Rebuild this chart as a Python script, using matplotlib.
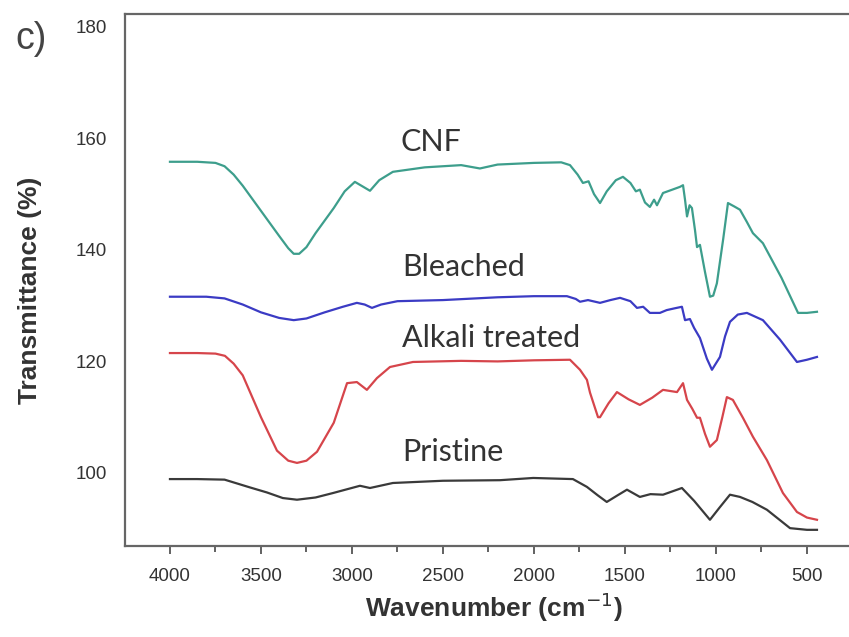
import matplotlib
matplotlib.use("Agg")
import matplotlib.pyplot as plt
from matplotlib.ticker import MultipleLocator

# ---- data ----
cnf_w = [4000, 3850, 3750, 3700, 3650, 3600, 3500, 3400, 3350, 3320, 3290, 3250, 3200, 3100, 3040, 2984,
         2901, 2850, 2775, 2600, 2400, 2297, 2200, 2000, 1850, 1802, 1760, 1731, 1700, 1670, 1637, 1600,
         1550, 1511, 1470, 1440, 1418, 1390, 1363, 1340, 1324, 1291, 1240, 1198, 1181, 1170, 1159, 1145,
         1132, 1115, 1104, 1088, 1060, 1033, 1015, 995, 960, 934, 900, 868, 830, 797, 742, 640, 549, 500, 445]
cnf_v = [155.8, 155.8, 155.6, 155.0, 153.5, 151.5, 147.0, 142.5, 140.3, 139.3, 139.3, 140.5, 143.0, 147.5, 150.5, 152.2,
         150.6, 152.5, 154.0, 154.8, 155.2, 154.6, 155.3, 155.6, 155.7, 155.2, 153.5, 152.0, 152.3, 150.0, 148.4, 150.5,
         152.5, 153.1, 152.0, 150.5, 150.8, 148.5, 147.7, 149.0, 148.0, 150.2, 150.8, 151.3, 151.6, 149.0, 146.0, 148.0,
         147.5, 143.5, 140.5, 140.9, 136.0, 131.6, 131.8, 134.0, 142.0, 148.4, 147.8, 147.2, 145.0, 143.0, 141.2, 135.0, 128.7, 128.7, 128.9]

ble_w = [4000, 3800, 3700, 3600, 3500, 3400, 3320, 3250, 3150, 3050, 2973, 2930, 2890, 2840, 2750,
         2500, 2200, 2000, 1819, 1770, 1747, 1703, 1637, 1580, 1527, 1470, 1434, 1400, 1363, 1308,
         1271, 1230, 1187, 1170, 1143, 1120, 1088, 1050, 1022, 978, 950, 923, 880, 830, 742, 648, 555, 500, 445]
ble_v = [131.6, 131.6, 131.3, 130.2, 128.8, 127.8, 127.4, 127.7, 128.8, 129.8, 130.5, 130.2, 129.6, 130.2, 130.8,
         131.0, 131.5, 131.7, 131.7, 131.2, 130.7, 131.0, 130.5, 131.0, 131.4, 130.8, 129.6, 129.8, 128.7, 128.7,
         129.2, 129.5, 129.8, 127.4, 127.6, 126.0, 124.2, 120.5, 118.5, 120.8, 124.5, 127.1, 128.4, 128.7, 127.4, 123.9, 119.9, 120.3, 120.8]

alk_w = [4000, 3850, 3750, 3698, 3650, 3600, 3500, 3412, 3350, 3302, 3250, 3192, 3100, 3027, 2973, 2918, 2863,
         2791, 2665, 2400, 2200, 2000, 1802, 1747, 1709, 1692, 1648, 1637, 1590, 1544, 1480, 1418, 1350, 1291,
         1214, 1181, 1159, 1130, 1104, 1088, 1060, 1033, 995, 965, 940, 907, 852, 797, 720, 632, 555, 500, 445]
alk_v = [121.5, 121.5, 121.4, 121.0, 119.6, 117.5, 110.0, 104.0, 102.2, 101.8, 102.2, 103.8, 109.0, 116.1, 116.3, 114.9, 117.0,
         119.0, 119.9, 120.1, 120.0, 120.2, 120.3, 118.5, 116.7, 114.4, 110.0, 110.0, 112.5, 114.5, 113.2, 112.2, 113.5, 114.9,
         114.5, 116.1, 113.1, 111.5, 109.9, 109.9, 107.0, 104.7, 105.9, 110.0, 113.6, 113.1, 109.9, 106.5, 102.3, 96.4, 93.0, 92.0, 91.6]

pri_w = [4000, 3850, 3700, 3640, 3560, 3467, 3380, 3302, 3200, 3104, 2956, 2901, 2775, 2500, 2187, 2004,
         1786, 1709, 1650, 1600, 1540, 1489, 1418, 1360, 1291, 1187, 1120, 1033, 980, 923, 868, 800, 720, 593, 500, 445]
pri_v = [98.9, 98.9, 98.8, 98.2, 97.4, 96.5, 95.5, 95.2, 95.6, 96.4, 97.7, 97.3, 98.2, 98.6, 98.7, 99.1,
         98.9, 97.5, 96.0, 94.8, 96.0, 97.0, 95.7, 96.2, 96.1, 97.3, 95.0, 91.6, 93.8, 96.1, 95.7, 94.8, 93.4, 90.1, 89.8, 89.8]

series_names = ["CNF", "Bleached", "Alkali treated", "Pristine"]
series_colors = ["#3d9e8c", "#3b3bc4", "#d6454b", "#3a3a3a"]
label_pos = [(2736, 159.4), (2725, 137.0), (2725, 124.2), (2725, 103.8)]

x_ticks = [4000, 3500, 3000, 2500, 2000, 1500, 1000, 500]
y_ticks = [100, 120, 140, 160, 180]

# ---- figure ----
fig = plt.figure(figsize=(8.49, 6.37), dpi=100)
ax = fig.add_axes([125/849, 1 - 546/637, 1 - 125/849, (546 - 14)/637])

data = [(cnf_w, cnf_v), (ble_w, ble_v), (alk_w, alk_v), (pri_w, pri_v)]
for (w, v), c in zip(data, series_colors):
    ax.plot(w, v, color=c, lw=1.6, solid_joinstyle="round")

for name, (lx, ly) in zip(series_names, label_pos):
    ax.text(lx, ly, name, fontsize=22, color="#333333", family="Lato", va="center", ha="left")

ax.set_xlim(4247, 269)
ax.set_ylim(86.9, 182.3)
ax.set_xticks(x_ticks)
ax.set_xticklabels([str(t) for t in x_ticks])
ax.xaxis.set_minor_locator(MultipleLocator(250))
ax.set_yticks(y_ticks)
ax.set_yticklabels([str(t) for t in y_ticks])

for lab in ax.get_xticklabels() + ax.get_yticklabels():
    lab.set_family("Liberation Sans")
    lab.set_fontsize(13.5)
    lab.set_color("#333333")

ax.tick_params(axis="x", which="major", direction="out", length=6, width=1.3, color="#555555", pad=10)
ax.tick_params(axis="x", which="minor", direction="out", length=4, width=1.3, color="#555555")
ax.tick_params(axis="y", which="both", length=0, pad=13)

for s in ["left", "top", "bottom"]:
    ax.spines[s].set_color("#666666")
    ax.spines[s].set_linewidth(1.6)
ax.spines["right"].set_visible(False)

ax.set_xlabel("Wavenumber (cm$^{-1}$)", fontsize=19, color="#333333", family="Liberation Sans",
              fontweight="bold")
ax.set_ylabel("Transmittance (%)", fontsize=19, color="#333333", family="Liberation Sans",
              fontweight="bold")
ax.xaxis.set_label_coords((494 - 125) / 724, (546 - 607) / 532)
ax.yaxis.set_label_coords((30 - 125) / 724, 0.48)
ax.xaxis.label.set_va("center")
ax.yaxis.label.set_va("center")

fig.text(15/849, 1 - 39/637, "c)", fontsize=27, color="#444444", family="Liberation Sans",
         va="center", ha="left")

fig.savefig("out.png", dpi=100)
